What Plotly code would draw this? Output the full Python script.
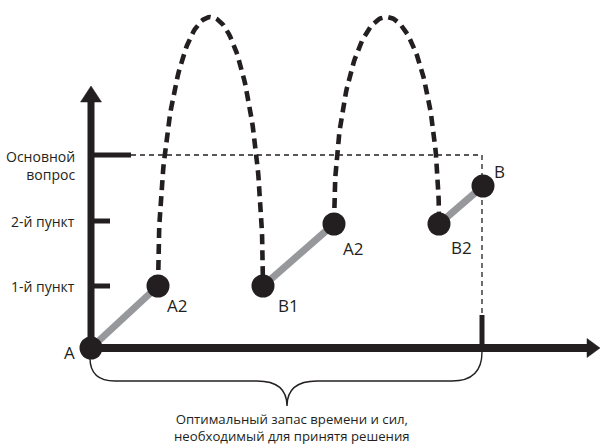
import numpy as np
import plotly.graph_objects as go

INK = "#231f20"
GRAY = "#97989b"
FONT = "Open Sans"

# ---- diagram data (pixel-space coordinates of the scheme) ----
origin = (91, 348)
x_axis_end = 600
y_axis_end = 86

tick_labels = ["1-й пункт", "2-й пункт", "Основной<br>вопрос"]
tick_levels = [286, 221, 155]
tick_lengths = [19, 19, 40]

point_names = ["A", "A2", "B1", "A2", "B2", "B"]
point_x = [91, 158, 263, 334, 439, 483]
point_y = [348, 286, 286, 224, 224, 186]
label_x = [69, 177, 288, 353, 461, 499]
label_y = [352, 305, 305, 248, 247, 171]

# solid progress segments (indices into points)
segments = [(0, 1), (2, 3), (4, 5)]
# dashed detours (start idx, end idx, peak height)
detours = [(1, 2, 17), (3, 4, 17)]

deadline_x = 482
deadline_tick_top = 315

brace_text = ["Оптимальный запас времени и сил,", "необходимый для принятя решения"]

fig = go.Figure()
shapes = []

# thin dashed guide lines
top_level = tick_levels[2]
fig.add_trace(go.Scatter(
    x=[origin[0] + tick_lengths[2], deadline_x, deadline_x],
    y=[top_level, top_level, deadline_tick_top],
    mode="lines", line=dict(color=INK, width=1.3, dash="5px,4px"),
    hoverinfo="skip", showlegend=False))

# axes
shapes.append(dict(type="line", x0=origin[0], y0=origin[1], x1=origin[0], y1=y_axis_end + 14,
                   line=dict(color=INK, width=7), layer="below"))
shapes.append(dict(type="line", x0=origin[0], y0=origin[1], x1=x_axis_end - 12, y1=origin[1],
                   line=dict(color=INK, width=8), layer="below"))
# arrow heads
ax, ay = origin[0], y_axis_end
shapes.append(dict(type="path", path=f"M {ax} {ay} L {ax-10.5} {ay+16} L {ax+10.5} {ay+16} Z",
                   fillcolor=INK, line=dict(color=INK, width=0.5)))
bx, by = x_axis_end, origin[1]
shapes.append(dict(type="path", path=f"M {bx} {by} L {bx-13} {by-9.5} L {bx-13} {by+9.5} Z",
                   fillcolor=INK, line=dict(color=INK, width=0.5)))
# y ticks
for lvl, ln in zip(tick_levels, tick_lengths):
    shapes.append(dict(type="line", x0=origin[0], y0=lvl, x1=origin[0] + ln, y1=lvl,
                       line=dict(color=INK, width=5)))
# deadline tick
shapes.append(dict(type="line", x0=deadline_x, y0=deadline_tick_top, x1=deadline_x, y1=origin[1],
                   line=dict(color=INK, width=5)))

# brace
bl, br, bmid, bh, btip = 90, 482, 287, 381, 406
shapes.append(dict(type="path",
                   path=(f"M {bl} 358 Q {bl} {bh} {bl+25} {bh} L {bmid-30} {bh} "
                         f"Q {bmid} {bh} {bmid} {btip} Q {bmid} {bh} {bmid+30} {bh} "
                         f"L {br-30} {bh} Q {br} {bh} {br} 352"),
                   line=dict(color=INK, width=1.4)))

# gray progress segments
for i, j in segments:
    fig.add_trace(go.Scatter(x=[point_x[i], point_x[j]], y=[point_y[i], point_y[j]],
                             mode="lines", line=dict(color=GRAY, width=7),
                             hoverinfo="skip", showlegend=False))

# dashed detours (half-ellipses between two points)
for i, j, peak in detours:
    cx = (point_x[i] + point_x[j]) / 2
    a = (point_x[j] - point_x[i]) / 2
    yb = point_y[i]
    b = yb - peak
    t = np.linspace(np.pi, 0, 120)
    fig.add_trace(go.Scatter(x=cx + a * np.cos(t), y=yb - b * np.sin(t),
                             mode="lines", line=dict(color=INK, width=4.6, dash="10px,6px"),
                             hoverinfo="skip", showlegend=False))

# points
fig.add_trace(go.Scatter(x=point_x, y=point_y, mode="markers",
                         marker=dict(color=INK, size=23, line=dict(width=0)),
                         hoverinfo="skip", showlegend=False))

annotations = []
for name, lx, ly in zip(point_names, label_x, label_y):
    annotations.append(dict(x=lx, y=ly, text=name, showarrow=False,
                            font=dict(family=FONT, size=17, color=INK),
                            xanchor="center", yanchor="middle"))
for lbl, lvl in zip(tick_labels, tick_levels):
    two = "<br>" in lbl
    annotations.append(dict(x=77, y=lvl - 10 if two else lvl, text=lbl, showarrow=False,
                            font=dict(family=FONT, size=14, color=INK),
                            xanchor="right", yanchor="top" if two else "middle",
                            align="right"))
annotations.append(dict(x=292, y=447, text="<br>".join(brace_text), showarrow=False,
                        font=dict(family=FONT, size=13.2, color=INK),
                        xanchor="center", yanchor="bottom", align="center"))

fig.update_layout(
    width=600, height=448,
    margin=dict(l=0, r=0, t=0, b=0),
    paper_bgcolor="white", plot_bgcolor="white",
    xaxis=dict(range=[0, 600], visible=False, fixedrange=True),
    yaxis=dict(range=[448, 0], visible=False, fixedrange=True),
    shapes=shapes, annotations=annotations,
)

fig.write_html("out.html", config={"displayModeBar": False},
               post_script="document.body.style.margin='0';document.body.style.overflow='hidden';")
